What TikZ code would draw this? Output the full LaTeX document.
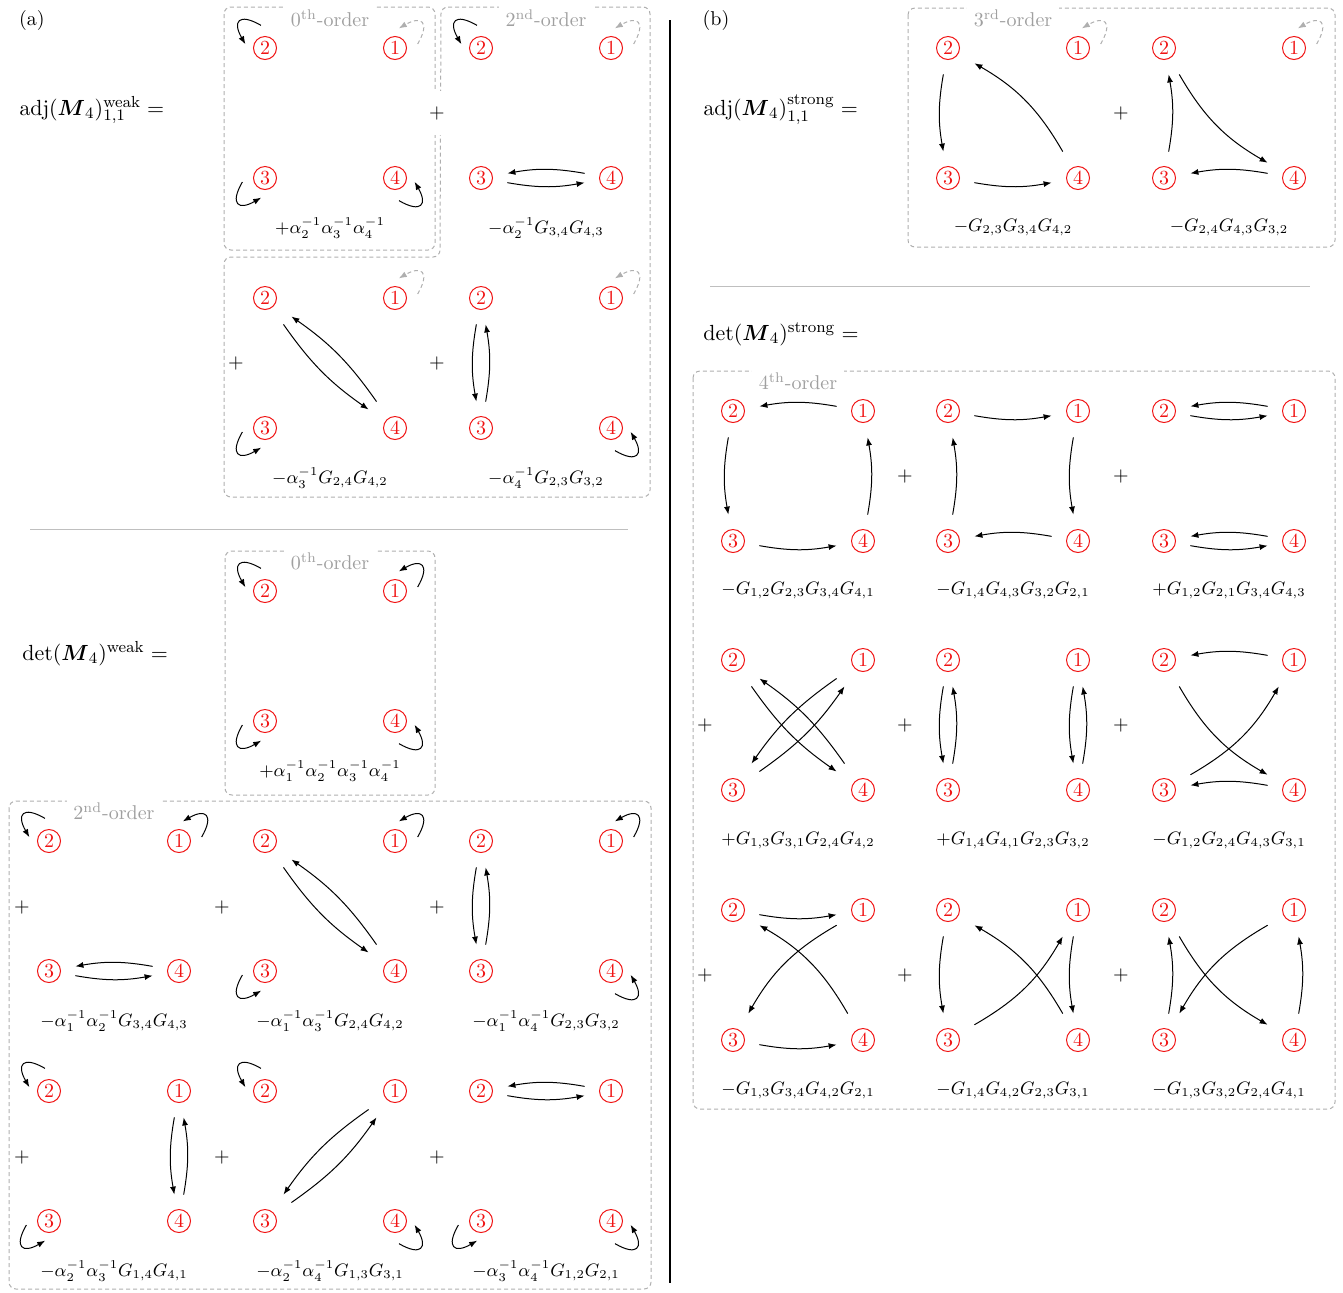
\documentclass[tikz,border=0pt]{standalone}
\usepackage{amsmath}
\usetikzlibrary{arrows.meta}
\definecolor{vred}{RGB}{240,20,20}
\definecolor{boxgray}{RGB}{175,175,175}
\definecolor{titlegray}{RGB}{160,160,160}
\newcommand\quadv[4]{%
 \node[vx] (#1-2) at (#2,-#3) {}; \node[circ] (#1-2c) at (#1-2) {2};
 \node[vx] (#1-1) at (#2+130,-#3) {}; \node[circ] (#1-1c) at (#1-1) {1};
 \node[vx] (#1-3) at (#2,-#3-130) {}; \node[circ] (#1-3c) at (#1-3) {3};
 \node[vx] (#1-4) at (#2+130,-#3-130) {}; \node[circ] (#1-4c) at (#1-4) {4};
 \node[lbl] (#1-t) at (#2+65,-#3-180) {$#4$};}
\newcommand\lp[3][lps]{%
  \pgfmathsetmacro\lpa{100+#3}%
  \pgfmathsetmacro\lpb{169+#3}%
  \pgfmathsetmacro\lpo{150+#3}%
  \pgfmathsetmacro\lpi{120+#3}%
  \draw[#1] ([shift={(\lpa:23)}]#2.center) to[out=\lpo,in=\lpi,distance=13pt] ([shift={(\lpb:20)}]#2.center);}
\newcommand\ed[3][10]{\draw[ar] (#2) to[bend right=#1] (#3);}
\newcommand\dbl[3][10]{\draw[ar] (#2) to[bend right=#1] (#3); \draw[ar] (#3) to[bend right=#1] (#2);}
\begin{document}
\begin{tikzpicture}[x=0.5pt,y=0.5pt,
  vx/.style={rectangle,minimum size=26pt,inner sep=0pt},
  circ/.style={circle,draw=vred,text=vred,minimum size=11.5pt,inner sep=0pt,line width=0.5pt},
  lbl/.style={inner sep=1pt,font=\small},
  ar/.style={-{Latex[length=4pt,width=3pt]},line width=0.5pt},
  lps/.style={ar},
  lpd/.style={-{Latex[length=4pt,width=3pt]},line width=0.5pt,draw=boxgray,fill=none,dash pattern=on 2pt off 1.5pt},
  bx/.style={draw=boxgray,line width=0.5pt,dash pattern=on 2pt off 1.5pt,rounded corners=3.5pt},
  ttl/.style={fill=white,text=titlegray},
  pl/.style={inner sep=2pt},
  eq/.style={anchor=base west,inner sep=0pt,font=\fontsize{10.95}{13.6}\selectfont}]
\useasboundingbox (0,0) rectangle (1343,-1292);

% ---------- boxes ----------
\draw[bx] (224,-7) rectangle (435,-250);
\draw[bx] (441,-7) -- (650,-7) -- (650,-497) -- (224,-497) -- (224,-257) -- (440,-257) -- cycle;
\draw[bx] (225,-551) rectangle (435,-795);
\draw[bx] (9,-801) rectangle (651,-1289);
\draw[bx] (908,-8) rectangle (1335,-247);
\draw[bx] (693,-371) rectangle (1335,-1109);

% separators
\draw[line width=0.5pt,draw=black!25] (30,-529) -- (628,-529);
\draw[line width=0.5pt,draw=black!25] (710,-286) -- (1310,-286);
\draw[line width=0.7pt] (670,-20) -- (670,-1283);

% titles
\node[ttl] (t1) at (330,-18) {0\textsuperscript{th}-order};
\node[ttl] (t2) at (546,-18) {2\textsuperscript{nd}-order};
\node[ttl] (t3) at (330,-561) {0\textsuperscript{th}-order};
\node[ttl] (t4) at (114,-811) {2\textsuperscript{nd}-order};
\node[ttl] (t5) at (1013,-18) {3\textsuperscript{rd}-order};
\node[ttl] (t6) at (798,-381) {4\textsuperscript{th}-order};

% panel labels and equations
\node (pa) at (32,-20) {(a)};
\node (pb) at (716,-20) {(b)};
\node[eq] (e1) at (19,-115) {$\mathrm{adj}(\boldsymbol{M}_4)^{\mathrm{weak}}_{1,1} =$};
\node[eq] (e2) at (22,-660) {$\det(\boldsymbol{M}_4)^{\mathrm{weak}} =$};
\node[eq] (e3) at (703,-115) {$\mathrm{adj}(\boldsymbol{M}_4)^{\mathrm{strong}}_{1,1} =$};
\node[eq] (e4) at (703,-340) {$\det(\boldsymbol{M}_4)^{\mathrm{strong}} =$};

% plus signs
\node[pl,fill=white,minimum height=22pt] (p1) at (437,-113) {$+$};
\node[pl] (p2) at (236,-363) {$+$};
\node[pl] (p3) at (437,-363) {$+$};
\node[pl] (p4) at (22,-907) {$+$};
\node[pl] (p5) at (222,-907) {$+$};
\node[pl] (p6) at (437,-907) {$+$};
\node[pl] (p7) at (22,-1157) {$+$};
\node[pl] (p8) at (222,-1157) {$+$};
\node[pl] (p9) at (437,-1157) {$+$};
\node[pl] (p10) at (1121,-113) {$+$};
\node[pl] (p11) at (905,-476) {$+$};
\node[pl] (p12) at (1121,-476) {$+$};
\node[pl] (p13) at (705,-725) {$+$};
\node[pl] (p14) at (905,-725) {$+$};
\node[pl] (p15) at (1121,-725) {$+$};
\node[pl] (p16) at (705,-975) {$+$};
\node[pl] (p17) at (905,-975) {$+$};
\node[pl] (p18) at (1121,-975) {$+$};

% ---------- (a) adj weak ----------
\quadv{W0}{265}{48}{+\alpha_2^{-1}\alpha_3^{-1}\alpha_4^{-1}}
\lp{W0-2}{0}\lp{W0-3}{90}\lp{W0-4}{180}\lp[lpd]{W0-1}{270}
\quadv{W1}{481}{48}{-\alpha_2^{-1}G_{3,4}G_{4,3}}
\lp{W1-2}{0}\lp[lpd]{W1-1}{270}\dbl{W1-3}{W1-4}
\quadv{W2}{265}{298}{-\alpha_3^{-1}G_{2,4}G_{4,2}}
\lp[lpd]{W2-1}{270}\lp{W2-3}{90}\dbl{W2-2}{W2-4}
\quadv{W3}{481}{298}{-\alpha_4^{-1}G_{2,3}G_{3,2}}
\lp[lpd]{W3-1}{270}\lp{W3-4}{180}\dbl{W3-2}{W3-3}

% ---------- (a) det weak ----------
\quadv{D0}{265}{591}{+\alpha_1^{-1}\alpha_2^{-1}\alpha_3^{-1}\alpha_4^{-1}}
\lp{D0-2}{0}\lp{D0-3}{90}\lp{D0-4}{180}\lp{D0-1}{270}
\quadv{D1}{49}{841}{-\alpha_1^{-1}\alpha_2^{-1}G_{3,4}G_{4,3}}
\lp{D1-2}{0}\lp{D1-1}{270}\dbl{D1-3}{D1-4}
\quadv{D2}{265}{841}{-\alpha_1^{-1}\alpha_3^{-1}G_{2,4}G_{4,2}}
\lp{D2-1}{270}\lp{D2-3}{90}\dbl{D2-2}{D2-4}
\quadv{D3}{481}{841}{-\alpha_1^{-1}\alpha_4^{-1}G_{2,3}G_{3,2}}
\lp{D3-1}{270}\lp{D3-4}{180}\dbl{D3-2}{D3-3}
\quadv{D4}{49}{1091}{-\alpha_2^{-1}\alpha_3^{-1}G_{1,4}G_{4,1}}
\lp{D4-2}{0}\lp{D4-3}{90}\dbl{D4-1}{D4-4}
\quadv{D5}{265}{1091}{-\alpha_2^{-1}\alpha_4^{-1}G_{1,3}G_{3,1}}
\lp{D5-2}{0}\lp{D5-4}{180}\dbl{D5-1}{D5-3}
\quadv{D6}{481}{1091}{-\alpha_3^{-1}\alpha_4^{-1}G_{1,2}G_{2,1}}
\lp{D6-3}{90}\lp{D6-4}{180}\dbl{D6-2}{D6-1}

% ---------- (b) adj strong ----------
\quadv{S1}{948}{48}{-G_{2,3}G_{3,4}G_{4,2}}
\lp[lpd]{S1-1}{270}\ed{S1-2}{S1-3}\ed{S1-3}{S1-4}\ed[15]{S1-4}{S1-2}
\quadv{S2}{1164}{48}{-G_{2,4}G_{4,3}G_{3,2}}
\lp[lpd]{S2-1}{270}\ed{S2-3}{S2-2}\ed[15]{S2-2}{S2-4}\ed{S2-4}{S2-3}

% ---------- (b) det strong ----------
\quadv{F1}{733}{411}{-G_{1,2}G_{2,3}G_{3,4}G_{4,1}}
\ed{F1-1}{F1-2}\ed{F1-2}{F1-3}\ed{F1-3}{F1-4}\ed{F1-4}{F1-1}
\quadv{F2}{948}{411}{-G_{1,4}G_{4,3}G_{3,2}G_{2,1}}
\ed{F2-2}{F2-1}\ed{F2-1}{F2-4}\ed{F2-4}{F2-3}\ed{F2-3}{F2-2}
\quadv{F3}{1164}{411}{+G_{1,2}G_{2,1}G_{3,4}G_{4,3}}
\dbl{F3-2}{F3-1}\dbl{F3-3}{F3-4}
\quadv{F4}{733}{660}{+G_{1,3}G_{3,1}G_{2,4}G_{4,2}}
\dbl{F4-2}{F4-4}\dbl{F4-1}{F4-3}
\quadv{F5}{948}{660}{+G_{1,4}G_{4,1}G_{2,3}G_{3,2}}
\dbl{F5-2}{F5-3}\dbl{F5-1}{F5-4}
\quadv{F6}{1164}{660}{-G_{1,2}G_{2,4}G_{4,3}G_{3,1}}
\ed{F6-1}{F6-2}\ed[15]{F6-2}{F6-4}\ed{F6-4}{F6-3}\ed[15]{F6-3}{F6-1}
\quadv{F7}{733}{910}{-G_{1,3}G_{3,4}G_{4,2}G_{2,1}}
\ed{F7-2}{F7-1}\ed[15]{F7-1}{F7-3}\ed{F7-3}{F7-4}\ed[15]{F7-4}{F7-2}
\quadv{F8}{948}{910}{-G_{1,4}G_{4,2}G_{2,3}G_{3,1}}
\ed{F8-2}{F8-3}\ed[15]{F8-3}{F8-1}\ed{F8-1}{F8-4}\ed[15]{F8-4}{F8-2}
\quadv{F9}{1164}{910}{-G_{1,3}G_{3,2}G_{2,4}G_{4,1}}
\ed{F9-3}{F9-2}\ed[15]{F9-2}{F9-4}\ed{F9-4}{F9-1}\ed[15]{F9-1}{F9-3}
\end{tikzpicture}
\end{document}
